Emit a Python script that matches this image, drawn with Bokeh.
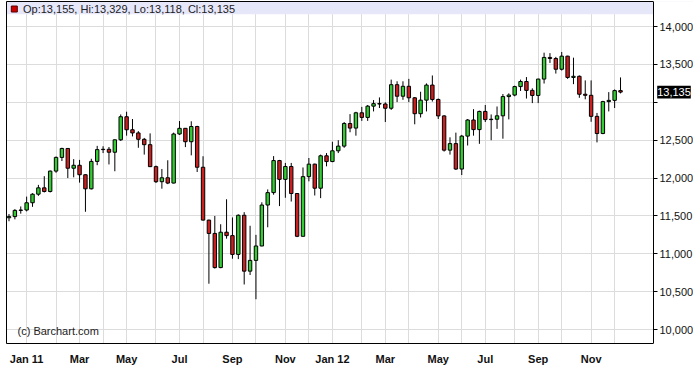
import pandas as pd
from bokeh.plotting import figure
from bokeh.models import (FixedTicker, NumeralTickFormatter, BoxAnnotation, Label, Range1d,
                          ColumnDataSource, LinearAxis)
from bokeh.embed import file_html
from bokeh.resources import INLINE

# ---- data: weekly bars (week starting Monday) ----
week_start = pd.date_range("2010-12-13", periods=105, freq="W-MON")

opens = [11476, 11491, 11573, 11578, 11674, 11787, 11871, 11823, 12092, 12273,
         12391, 12130, 12169, 12044, 11858, 12220, 12376, 12380, 12341, 12505,
         12810, 12638, 12596, 12512, 12441, 12151, 11952, 12004, 11934, 12582,
         12657, 12480, 12681, 12143, 11445, 11269, 10818, 11285, 11240, 10992,
         11509, 10771, 10913, 11103, 11644, 11808, 12231, 11983, 12153, 11796,
         11231, 12019, 12184, 11866, 12294, 12218, 12360, 12422, 12720, 12660,
         12862, 12801, 12950, 12983, 12978, 12922, 13233, 13081, 13212, 13060,
         12850, 13029, 13228, 13038, 12821, 12369, 12455, 12119, 12554, 12767,
         12640, 12880, 12772, 12777, 12822, 13076, 13096, 13208, 13275, 13158,
         13091, 13307, 13593, 13579, 13437, 13610, 13329, 13344, 13107, 13093,
         12815, 12588, 13010, 13026, 13155]
highs = [11525, 11590, 11625, 11755, 11800, 11910, 12025, 12100, 12285, 12400,
         12395, 12250, 12240, 12050, 12255, 12425, 12420, 12410, 12510, 12840,
         12876, 12780, 12620, 12530, 12590, 12165, 12120, 12235, 12600, 12753,
         12660, 12750, 12690, 12288, 11450, 11500, 11390, 11720, 11480, 11520,
         11550, 11370, 11250, 11680, 11850, 12290, 12240, 12200, 12200, 11800,
         12140, 12265, 12190, 12310, 12330, 12480, 12500, 12740, 12845, 12875,
         12940, 12965, 13030, 13065, 13000, 13300, 13278, 13278, 13310, 13070,
         13140, 13250, 13355, 13050, 12830, 12538, 12600, 12570, 12780, 12910,
         12890, 12965, 12840, 12945, 13110, 13119, 13220, 13300, 13334, 13185,
         13312, 13656, 13650, 13600, 13665, 13615, 13590, 13355, 13290, 13290,
         12860, 13020, 13135, 13170, 13329]
lows = [11430, 11455, 11530, 11560, 11620, 11765, 11810, 11810, 12070, 12225,
        12000, 12010, 11940, 11555, 11850, 12170, 12330, 12180, 12090, 12490,
        12560, 12550, 12400, 12310, 12145, 11935, 11860, 11920, 11930, 12570,
        12409, 12300, 12080, 11440, 10605, 10805, 10810, 11200, 10935, 10930,
        10595, 10720, 10400, 11100, 11350, 11780, 11630, 11740, 11690, 11220,
        11230, 11957, 11770, 11735, 12155, 12210, 12330, 12400, 12605, 12560,
        12755, 12755, 12880, 12925, 12740, 12900, 13003, 13033, 13003, 12710,
        12800, 12880, 13010, 12780, 12350, 12310, 12107, 12040, 12430, 12560,
        12452, 12740, 12500, 12650, 12520, 12775, 13080, 13150, 13050, 12990,
        12990, 13248, 13520, 13380, 13420, 13310, 13240, 13060, 13040, 12743,
        12471, 12580, 12880, 12925, 13118]
closes = [11491, 11573, 11578, 11674, 11787, 11871, 11823, 12092, 12273, 12391,
          12130, 12169, 12044, 11858, 12220, 12376, 12380, 12341, 12505, 12810,
          12638, 12596, 12512, 12441, 12151, 11952, 12004, 11934, 12582, 12657,
          12480, 12681, 12143, 11445, 11269, 10818, 11285, 11240, 10992, 11509,
          10771, 10913, 11103, 11644, 11808, 12231, 11983, 12153, 11796, 11231,
          12019, 12184, 11866, 12294, 12218, 12360, 12422, 12720, 12660, 12862,
          12801, 12950, 12983, 12978, 12922, 13233, 13081, 13212, 13060, 12850,
          13029, 13228, 13038, 12821, 12369, 12455, 12119, 12554, 12767, 12640,
          12880, 12772, 12777, 12822, 13076, 13096, 13208, 13275, 13158, 13091,
          13307, 13593, 13579, 13437, 13610, 13329, 13344, 13107, 13093, 12815,
          12588, 13010, 13026, 13155, 13135]

month_names = {1: "Jan", 3: "Mar", 5: "May", 7: "Jul", 9: "Sep", 11: "Nov"}
y_ticks = [10000, 10500, 11000, 11500, 12000, 12500, 13000, 13500, 14000]
credit = "(c) Barchart.com"

# ---- layout geometry ----
W, H = 693, 367
BL, BR, BT, BB = 6, 0, 1, 16
FW, FH = W - BL - BR, H - BT - BB
BAR_PX = 5.88
x0 = -0.425
x1 = x0 + FW / BAR_PX
y0, y1 = 9815.5, 14331.6
Y_PER_PX = (y1 - y0) / FH

def px_x(px):  # canvas px -> data x
    return x0 + (px - BL) / BAR_PX

def px_y(py):  # canvas px -> data y
    return y1 - (py - BT) * Y_PER_PX

x_edge = px_x(653)  # right edge of the chart area (price axis)

idx = list(range(len(week_start)))
up = [c >= o for o, c in zip(opens, closes)]
src_up = ColumnDataSource(dict(
    x=[i for i in idx if up[i]],
    top=[closes[i] for i in idx if up[i]],
    bottom=[opens[i] for i in idx if up[i]]))
src_dn = ColumnDataSource(dict(
    x=[i for i in idx if not up[i]],
    top=[opens[i] for i in idx if not up[i]],
    bottom=[closes[i] for i in idx if not up[i]]))

# month grid / ticks at first bar of each month
major, minor, overrides = [], [], {}
for i in range(1, len(week_start)):
    if week_start[i].month != week_start[i - 1].month:
        m = week_start[i].month
        if m in month_names:
            major.append(i)
            lab = month_names[m]
            if m == 1:
                lab += " " + week_start[i].strftime("%y")
            overrides[i] = lab
        else:
            minor.append(i)

p = figure(width=W, height=H, x_range=Range1d(x0, x1), y_range=Range1d(y0, y1),
           y_axis_location="right", toolbar_location=None, output_backend="svg",
           min_border_left=BL, min_border_right=BR, min_border_top=BT, min_border_bottom=BB)
p.background_fill_color = "white"
p.border_fill_color = "white"
p.outline_line_color = None

grid_col = "#dcdcdc"
p.xaxis.ticker = FixedTicker(ticks=major, minor_ticks=minor)
p.xgrid.grid_line_color = grid_col
p.xgrid.minor_grid_line_color = grid_col
p.yaxis.ticker = FixedTicker(ticks=y_ticks)
p.ygrid.grid_line_color = grid_col

# bottom (time) axis
p.xaxis.bounds = (x0, x_edge)
p.xaxis.major_label_overrides = overrides
p.xaxis.major_tick_line_color = None
p.xaxis.minor_tick_line_color = None
p.xaxis.axis_line_color = "black"
p.xaxis.major_label_standoff = 3
p.xaxis.major_label_text_font = "Liberation Sans"
p.xaxis.major_label_text_font_style = "bold"
p.xaxis.major_label_text_font_size = "11px"
p.xaxis.major_label_text_color = "#111111"

# price axis, pinned at the right edge of the chart area
p.yaxis.fixed_location = x_edge
p.yaxis.formatter = NumeralTickFormatter(format="0,0")
p.yaxis.major_label_overrides = {13000: ""}
p.yaxis.major_tick_out = 4
p.yaxis.major_tick_in = 0
p.yaxis.minor_tick_line_color = None
p.yaxis.axis_line_color = "black"
p.yaxis.major_tick_line_color = "black"
p.yaxis.major_label_standoff = 2
p.yaxis.major_label_text_font = "Liberation Sans"
p.yaxis.major_label_text_font_size = "11px"
p.yaxis.major_label_text_color = "#111111"

# plain border lines on left and top
for side in ("left", "above"):
    ax = LinearAxis(ticker=FixedTicker(ticks=[]), axis_line_color="black",
                    major_tick_line_color=None, minor_tick_line_color=None,
                    major_tick_out=0, major_tick_in=0, major_label_standoff=0,
                    major_label_text_font_size="0px")
    if side == "above":
        ax.bounds = (x0, x_edge)
    p.add_layout(ax, side)

# header band
p.add_layout(BoxAnnotation(bottom=px_y(14), fill_color="#e6e8fa", fill_alpha=1.0,
                           line_color=None, level="underlay"))
# blank margin right of the price axis line (hides grid / band there)
p.add_layout(BoxAnnotation(left=px_x(653.5), fill_color="white", fill_alpha=1.0,
                           line_color=None, level="glyph"))

# wicks and bodies
p.segment(x0=idx, y0=lows, x1=idx, y1=highs, line_color="black", line_width=1)
p.vbar(x="x", top="top", bottom="bottom", width=0.58, source=src_up,
       fill_color="#33cc33", line_color="black", line_width=1)
p.vbar(x="x", top="top", bottom="bottom", width=0.58, source=src_dn,
       fill_color="#cc1f1f", line_color="black", line_width=1)

header = "Op:{:,}, Hi:{:,}, Lo:{:,}, Cl:{:,}".format(opens[-1], highs[-1], lows[-1], closes[-1])
p.scatter(x=[px_x(13.8)], y=[px_y(8.7)], marker="square", size=6,
          fill_color="#cc0000", line_color="#550000")
p.add_layout(Label(x=px_x(22.5), y=px_y(8.5), text=header, text_align="left",
                   text_baseline="middle", text_font="Liberation Sans",
                   text_font_size="11px", text_color="#222222"))
p.add_layout(Label(x=px_x(17), y=px_y(338.5), text=credit, text_align="left",
                   text_baseline="middle", text_font="Liberation Sans",
                   text_font_size="11px", text_color="#222222"))

# last price tag: black box + white text on the price axis
last = closes[-1]
p.add_layout(BoxAnnotation(left=px_x(656.7), right=px_x(690.3),
                           bottom=last - 6.5 * Y_PER_PX, top=last + 6.5 * Y_PER_PX,
                           fill_color="black", fill_alpha=1.0, line_color=None,
                           level="overlay"))
p.add_layout(Label(x=px_x(673.5), y=last, text="{:,}".format(last),
                   level="overlay", text_align="center", text_baseline="middle",
                   text_font="Liberation Sans", text_font_size="11px", text_color="white"))

open("out.html", "w").write(file_html(p, INLINE))
